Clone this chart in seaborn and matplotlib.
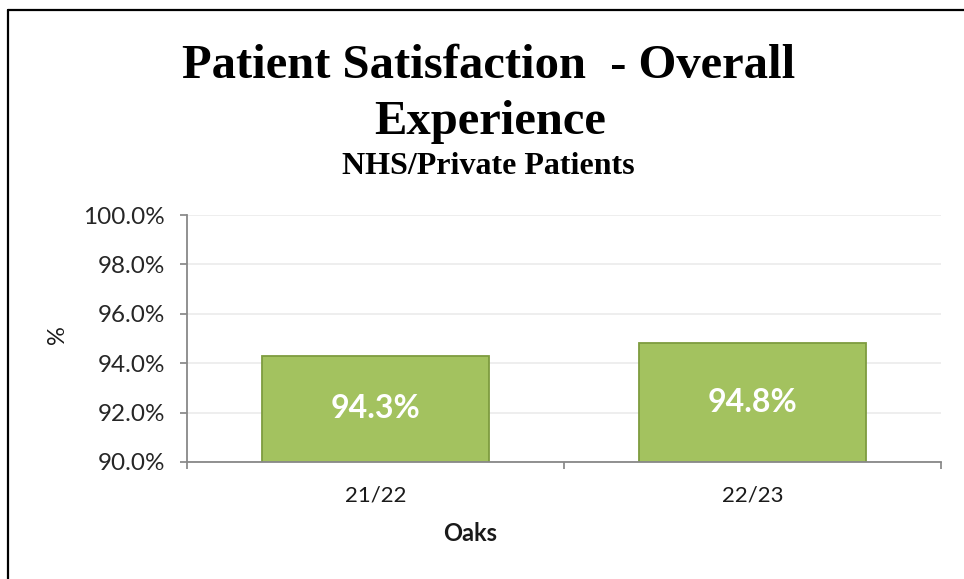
import matplotlib
matplotlib.use("Agg")
import matplotlib.pyplot as plt
import matplotlib.lines as mlines
import pandas as pd
import seaborn as sns

# data
years = ["21/22", "22/23"]
satisfaction = [94.3, 94.8]
bar_labels = ["94.3%", "94.8%"]
y_ticks = [90, 92, 94, 96, 98, 100]

sns.set_theme(style="white")
plt.rcParams["font.family"] = ["Lato", "DejaVu Sans"]

df = pd.DataFrame({"year": years, "pct": satisfaction})

fig = plt.figure(figsize=(9.64, 5.79), dpi=100)
ax = fig.add_axes([187 / 964, 1 - 462 / 579, (941 - 187) / 964, (462 - 215) / 579])

sns.barplot(data=df, x="year", y="pct", ax=ax, width=0.6,
            color="#A3C25F", edgecolor="#7E9C3F", linewidth=1.3, saturation=1)

ax.set_ylim(90, 100)
ax.set_xlim(-0.5, 1.5)
ax.set_yticks(y_ticks)
ax.set_yticklabels([f"{t:.1f}%" for t in y_ticks], fontsize=17.5, color="#262626")
ax.grid(axis="y", color="#EBEBEB", linewidth=1.2)
ax.set_axisbelow(True)

# excel style: ticks between categories, labels centered
ax.set_xticks([-0.5, 0.5, 1.5])
ax.set_xticklabels(["", "", ""])
ax.set_xticks([0, 1], minor=True)
ax.set_xticklabels(years, minor=True, fontsize=16, color="#1a1a1a")
ax.tick_params(axis="x", which="major", direction="out", length=5, color="#888888", bottom=True)
ax.tick_params(axis="x", which="minor", length=0, pad=17, bottom=True)
ax.tick_params(axis="y", direction="out", length=5, color="#888888", pad=11, left=True)

for s in ["top", "right"]:
    ax.spines[s].set_visible(False)
for s in ["left", "bottom"]:
    ax.spines[s].set_color("#888888")
    ax.spines[s].set_linewidth(1.3)

# value labels in middle of visible bar
for i, v in enumerate(satisfaction):
    ax.text(i, (90 + v) / 2, bar_labels[i], ha="center", va="center",
            color="white", fontsize=23, fontweight="bold")

ax.set_xlabel("Oaks", fontsize=17, fontweight="bold", color="#1a1a1a")
ax.xaxis.set_label_coords((470 - 187) / 754, -(522 - 462) / 247)
ax.set_ylabel("%", fontsize=17, color="#1a1a1a")
ax.yaxis.set_label_coords((68 - 187) / 754, (462 - 335) / 247)

# titles
serif = ["Liberation Serif", "DejaVu Serif"]
fig.text(489 / 964, 1 - 78 / 579, "Patient Satisfaction  - Overall", ha="center", va="baseline",
         fontsize=35, fontweight="bold", family=serif, color="black")
fig.text(490 / 964, 1 - 134 / 579, "Experience", ha="center", va="baseline",
         fontsize=35, fontweight="bold", family=serif, color="black")
fig.text(488 / 964, 1 - 174 / 579, "NHS/Private Patients", ha="center", va="baseline",
         fontsize=23, fontweight="bold", family=serif, color="black")

# chart frame (left and top edge only visible in the crop)
fig.add_artist(mlines.Line2D([8 / 964, 8 / 964], [0, 1 - 10 / 579], color="black", linewidth=1.6))
fig.add_artist(mlines.Line2D([8 / 964, 1], [1 - 10 / 579, 1 - 10 / 579], color="black", linewidth=1.6))

fig.savefig("out.png", dpi=100, facecolor="white")
